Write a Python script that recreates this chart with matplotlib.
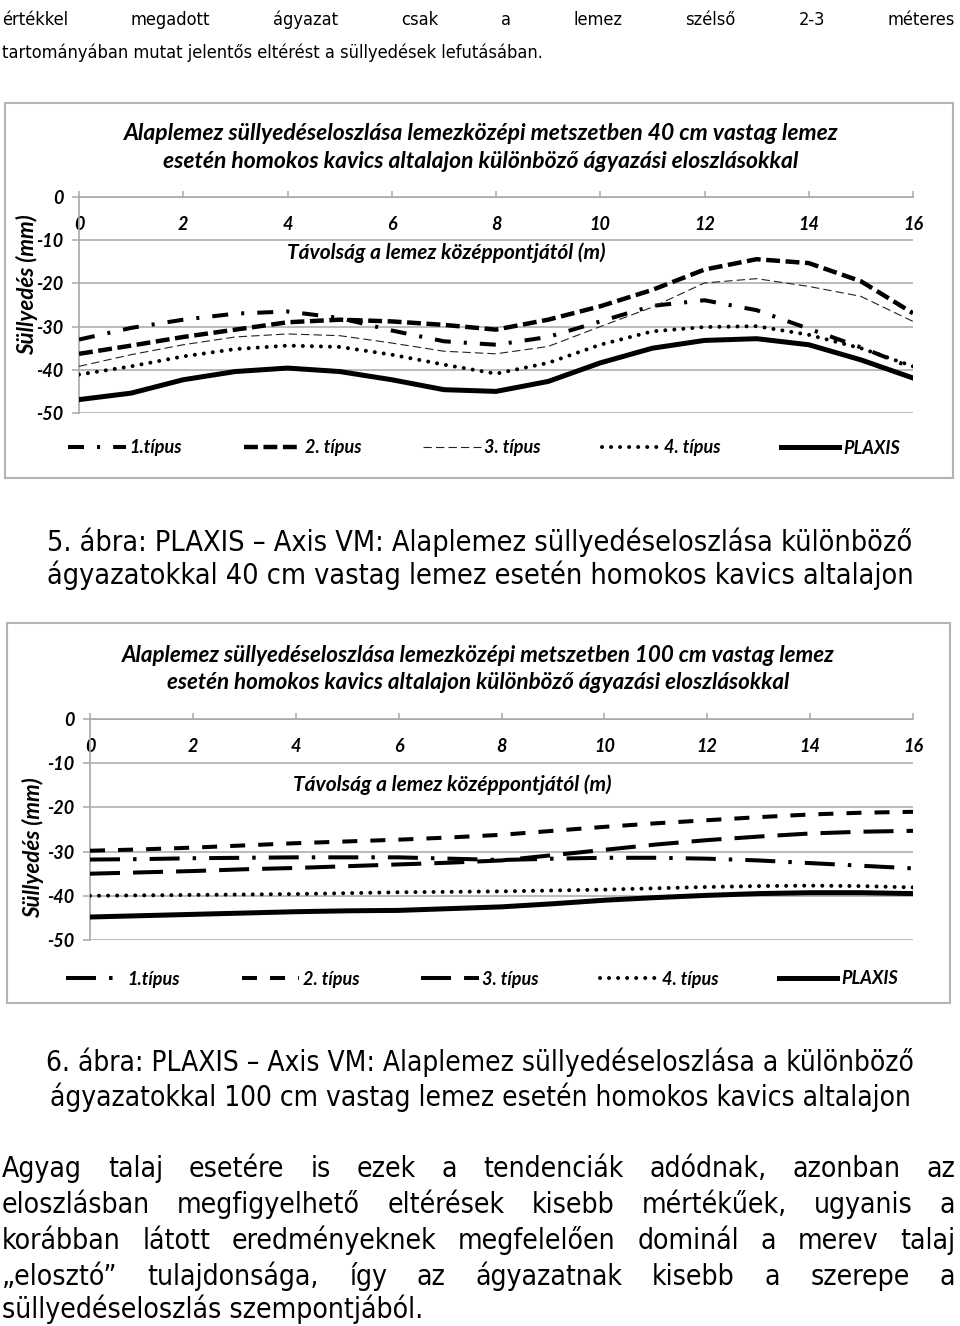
import matplotlib
matplotlib.use('Agg')
import matplotlib.pyplot as plt
from matplotlib import font_manager as fm
from matplotlib.patches import Rectangle

plt.rcParams['axes.unicode_minus'] = False
plt.rcParams['lines.scale_dashes'] = False

# ---------------- data ----------------
dist = [0, 1, 2, 3, 4, 5, 6, 7, 8, 9, 10, 11, 12, 13, 14, 15, 16]

# chart 1 (40 cm plate)
c1_tipus1 = [-33.0, -30.3, -28.4, -27.0, -26.5, -28.0, -30.9, -33.4, -34.2, -32.4, -28.8, -25.2, -23.9, -26.2, -30.5, -34.8, -39.6]
c1_tipus2 = [-36.3, -34.4, -32.4, -30.7, -29.0, -28.4, -28.8, -29.6, -30.7, -28.4, -25.3, -21.5, -16.8, -14.4, -15.3, -19.5, -26.9]
c1_tipus3 = [-39.2, -36.5, -34.2, -32.4, -31.7, -32.1, -33.8, -35.7, -36.3, -34.6, -30.0, -25.5, -19.9, -18.9, -20.7, -23.0, -28.8]
c1_tipus4 = [-41.1, -39.2, -36.9, -35.2, -34.4, -34.7, -36.5, -38.8, -40.9, -38.4, -34.2, -31.1, -30.1, -29.9, -31.9, -35.0, -39.2]
c1_plaxis = [-46.9, -45.4, -42.3, -40.4, -39.6, -40.4, -42.3, -44.6, -45.0, -42.7, -38.4, -35.0, -33.2, -32.8, -34.2, -37.7, -41.9]

# chart 2 (100 cm plate)
c2_tipus1 = [-31.8, -31.7, -31.5, -31.4, -31.3, -31.3, -31.3, -31.6, -31.9, -31.6, -31.4, -31.4, -31.6, -32.0, -32.6, -33.2, -33.8]
c2_tipus2 = [-29.8, -29.5, -29.1, -28.6, -28.1, -27.7, -27.3, -26.8, -26.2, -25.3, -24.4, -23.6, -22.9, -22.2, -21.6, -21.2, -21.0]
c2_tipus3 = [-35.0, -34.7, -34.4, -34.0, -33.7, -33.3, -32.9, -32.5, -32.0, -30.8, -29.6, -28.4, -27.4, -26.6, -25.9, -25.5, -25.3]
c2_tipus4 = [-40.0, -39.9, -39.8, -39.7, -39.6, -39.4, -39.2, -39.1, -39.0, -38.8, -38.6, -38.3, -38.0, -37.8, -37.7, -37.8, -38.1]
c2_plaxis = [-44.8, -44.5, -44.2, -43.9, -43.6, -43.4, -43.3, -42.9, -42.5, -41.8, -41.0, -40.4, -39.9, -39.5, -39.3, -39.3, -39.5]

x_ticks = [0, 2, 4, 6, 8, 10, 12, 14, 16]
y_ticks = [0, -10, -20, -30, -40, -50]
series_labels = ['1.típus', '2. típus', '3. típus', '4. típus', 'PLAXIS']

title1 = ['Alaplemez süllyedéseloszlása lemezközépi metszetben 40 cm vastag lemez',
          'esetén homokos kavics altalajon különböző ágyazási eloszlásokkal']
title2 = ['Alaplemez süllyedéseloszlása lemezközépi metszetben 100 cm vastag lemez',
          'esetén homokos kavics altalajon különböző ágyazási eloszlásokkal']
x_label = 'Távolság a lemez középpontjától (m)'
y_label = 'Süllyedés (mm)'

para_top = ['értékkel megadott ágyazat csak a lemez szélső 2-3 méteres',
            'tartományában mutat jelentős eltérést a süllyedések lefutásában.']
caption5 = ['5. ábra: PLAXIS – Axis VM: Alaplemez süllyedéseloszlása különböző',
            'ágyazatokkal 40 cm vastag lemez esetén homokos kavics altalajon']
caption6 = ['6. ábra: PLAXIS – Axis VM: Alaplemez süllyedéseloszlása a különböző',
            'ágyazatokkal 100 cm vastag lemez esetén homokos kavics altalajon']
para_bottom = ['Agyag talaj esetére is ezek a tendenciák adódnak, azonban az',
               'eloszlásban megfigyelhető eltérések kisebb mértékűek, ugyanis a',
               'korábban látott eredményeknek megfelelően dominál a merev talaj',
               '„elosztó” tulajdonsága, így az ágyazatnak kisebb a szerepe a',
               'süllyedéseloszlás szempontjából.']

# ---------------- setup ----------------
W, H = 960, 1326
fig = plt.figure(figsize=(W / 100, H / 100), dpi=100)
fig.patch.set_facecolor('white')


def font_ok(name):
    try:
        fm.findfont(fm.FontProperties(family=name), fallback_to_default=False)
        return True
    except Exception:
        return False


def find_condensed():
    cands = []
    for f in fm.fontManager.ttflist:
        if f.style != 'normal':
            continue
        if f.weight not in (400, 'normal', 'regular', 'book', 'Regular'):
            continue
        st = f.stretch
        cond = ('Narrow' in f.name) or ('Condensed' in f.name) or \
               (isinstance(st, str) and 'condensed' in st) or \
               (isinstance(st, (int, float)) and st < 500)
        if cond and not f.fname.lower().endswith(('.otf',)) or (cond and 'Liberation' in f.name):
            cands.append(f)
    order = ['Liberation', 'DejaVu', 'Roboto', 'Noto Sans', 'Open Sans']
    for key in order:
        for f in cands:
            if key in f.name and 'Mono' not in f.name and 'Serif' not in f.name:
                return f.fname
    return None


_cond = find_condensed()
if _cond:
    BODY_FP = fm.FontProperties(fname=_cond)
else:
    BODY_FP = fm.FontProperties(family='Liberation Sans' if font_ok('Liberation Sans') else 'DejaVu Sans')

CHART = 'Lato' if font_ok('Lato') else 'DejaVu Sans'
CK = dict(family=CHART, weight='bold', style='italic')
GRID = '#a8a8a8'


def bfp(size):
    p = BODY_FP.copy()
    p.set_size(size)
    return p


def X(px):
    return px / W


def Y(py):
    return 1 - py / H


renderer = fig.canvas.get_renderer()


def width_of(s, **kw):
    t = fig.text(0, 0, s, **kw)
    w = t.get_window_extent(renderer).width
    t.remove()
    return w


def fit_body(s, target, base=20):
    return base * target / width_of(s, fontproperties=bfp(base))


def fit_chart(s, target, base=12):
    return base * target / width_of(s, fontsize=base, **CK)


def put_line(s, ybase, x0, x1, size, justify):
    if not justify:
        fig.text(X(x0), Y(ybase), s, fontproperties=bfp(size), ha='left', va='baseline')
        return
    words = s.split(' ')
    texts = [fig.text(0, Y(ybase), w, fontproperties=bfp(size), ha='left', va='baseline') for w in words]
    widths = [t.get_window_extent(renderer).width for t in texts]
    gap = (x1 - x0 - sum(widths)) / (len(words) - 1)
    x = x0
    for t, w in zip(texts, widths):
        t.set_x(X(x))
        x += w + gap


# ---------------- page text ----------------
s_top = fit_body(para_top[1], 540)
put_line(para_top[0], 25, 2, 955, s_top, True)
put_line(para_top[1], 58, 2, 955, s_top, False)

s_c5 = fit_body(caption5[0], 864)
for s, yb in zip(caption5, [551, 584]):
    fig.text(X(480), Y(yb), s, fontproperties=bfp(s_c5), ha='center', va='baseline')
s_c6 = fit_body(caption6[0], 868)
for s, yb in zip(caption6, [1071, 1106]):
    fig.text(X(480), Y(yb), s, fontproperties=bfp(s_c6), ha='center', va='baseline')

s_bot = fit_body(para_bottom[-1], 423)
for i, (s, yb) in enumerate(zip(para_bottom, [1177, 1213, 1249, 1285, 1318])):
    put_line(s, yb, 2, 955, s_bot, i < len(para_bottom) - 1)

# ---------------- charts ----------------
styles1 = [dict(color='black', lw=2.9, dashes=(11.5, 9.4, 2.2, 9.4)),
           dict(color='black', lw=3.2, dashes=(10, 4)),
           dict(color='#222222', lw=0.8, dashes=(6, 3)),
           dict(color='black', lw=2.9, dashes=(0.01, 6.5), dash_capstyle='round'),
           dict(color='black', lw=3.6)]
styles2 = [dict(color='black', lw=2.9, dashes=(21.6, 9.4, 2.5, 9.4)),
           dict(color='black', lw=2.9, dashes=(10.8, 9.4)),
           dict(color='black', lw=2.9, dashes=(21.6, 9.4)),
           dict(color='black', lw=2.9, dashes=(0.01, 6.5), dash_capstyle='round'),
           dict(color='black', lw=3.6)]

TICK_SIZE = 13


def make_chart(frame, plot, series, styles, title, title_y, title_x, xlab_pos, ylab_pos, legend_pos):
    fx0, fy0, fx1, fy1 = frame
    fig.patches.append(Rectangle((X(fx0), Y(fy1)), X(fx1 - fx0), (fy1 - fy0) / H,
                                 transform=fig.transFigure, fill=False,
                                 edgecolor='#b4b4b4', lw=1.5))
    px0, py0, px1, py1 = plot
    ax = fig.add_axes([X(px0), Y(py1), X(px1 - px0), (py1 - py0) / H])
    ax.set_facecolor('none')
    handles = []
    for ys, st, lab in zip(series, styles, series_labels):
        ln, = ax.plot(dist, ys, label=lab, zorder=3, **st)
        handles.append(ln)
    ax.set_xlim(0, 16)
    ax.set_ylim(-50, 0)
    ax.set_xticks(x_ticks)
    ax.set_yticks(y_ticks)
    ax.set_xticklabels([str(v) for v in x_ticks])
    ax.set_yticklabels([str(v) for v in y_ticks])
    for sp in ['top', 'right']:
        ax.spines[sp].set_visible(False)
    ax.spines['bottom'].set_position(('data', 0))
    ax.spines['bottom'].set_color(GRID)
    ax.spines['bottom'].set_linewidth(1.2)
    ax.spines['left'].set_color(GRID)
    ax.spines['left'].set_linewidth(1.2)
    ax.yaxis.grid(True, color=GRID, lw=1.1, zorder=0)
    ax.set_axisbelow(True)
    ax.tick_params(axis='x', direction='in', length=4, width=1.1, color=GRID, pad=14,
                   labelsize=TICK_SIZE)
    ax.tick_params(axis='y', direction='out', length=5, width=1.1, color=GRID, pad=6,
                   labelsize=TICK_SIZE)
    for lab in ax.get_xticklabels() + ax.get_yticklabels():
        lab.set_fontfamily(CHART)
        lab.set_fontweight('bold')
        lab.set_fontstyle('italic')
    ts = fit_chart(title[0], 713)
    for s, ty in zip(title, title_y):
        fig.text(X(title_x), Y(ty), s, fontsize=ts, ha='center', va='center', **CK)
    xs = fit_chart(x_label, 318)
    fig.text(X(xlab_pos[0]), Y(xlab_pos[1]), x_label, fontsize=xs, ha='center', va='center', **CK)
    ys_ = fit_chart(y_label, 140)
    fig.text(X(ylab_pos[0]), Y(ylab_pos[1]), y_label, fontsize=ys_, ha='center', va='center',
             rotation=90, **CK)
    ax.legend(handles, series_labels, ncol=5, loc='center',
              bbox_to_anchor=(X(legend_pos[0]), Y(legend_pos[1])), bbox_transform=fig.transFigure,
              frameon=False, handlelength=3.2, handletextpad=0.2, columnspacing=3.4,
              prop=fm.FontProperties(family=CHART, weight='bold', style='italic', size=TICK_SIZE))
    return ax


make_chart((5, 103, 953, 478), (79, 197, 913, 413),
           [c1_tipus1, c1_tipus2, c1_tipus3, c1_tipus4, c1_plaxis], styles1,
           title1, [133, 161], 481, (446, 253), (27, 285), (484, 448))
make_chart((7, 623, 950, 1003), (90, 719, 913, 940),
           [c2_tipus1, c2_tipus2, c2_tipus3, c2_tipus4, c2_plaxis], styles2,
           title2, [655, 683], 478, (452, 785), (33, 848), (482, 979))

fig.savefig('out.png', dpi=100, facecolor='white')
